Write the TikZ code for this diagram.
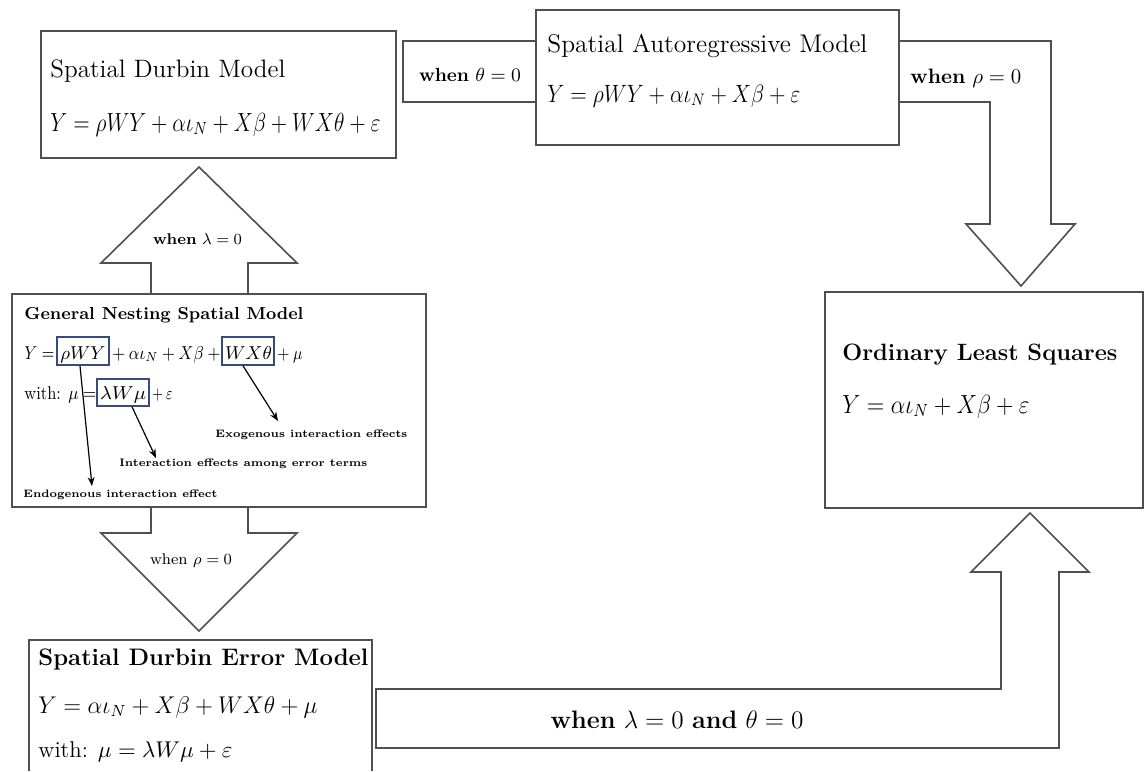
\RequirePackage{fix-cm}
\documentclass[tikz,border=0pt]{standalone}
\usetikzlibrary{arrows.meta,fit}
\newcommand{\fsz}[1]{\fontsize{#1}{#1}\selectfont}
% \rsz{width in pt}{font size}{text}
\newcommand{\rsz}[3]{\resizebox{#1pt}{!}{\fsz{#2}#3}}
% \rszh{width in pt}{height in pt}{font size}{text}
\newcommand{\rszh}[4]{\resizebox{#1pt}{#2pt}{\fsz{#3}#4}}
\definecolor{lc}{RGB}{80,80,80}
\definecolor{bx}{RGB}{55,75,125}
\begin{document}
\begin{tikzpicture}[x=0.5pt,y=-0.5pt,
  frame/.style={draw=lc, line width=0.8pt, inner sep=0pt},
  blk/.style={draw=lc, line width=0.8pt, line join=miter},
  txt/.style={inner sep=0pt, anchor=base west},
  ctr/.style={inner sep=0pt, anchor=center},
  mid/.style={inner sep=0pt, anchor=base},
  bbox/.style={draw=bx, line width=0.8pt, inner sep=0pt},
  ptr/.style={draw=black, line width=0.6pt, -{Stealth[length=4.5pt,width=3.5pt]}},
  lab/.style={inner sep=0pt, anchor=base west}]
\useasboundingbox (0,0) rectangle (1144,771);
\fill[white] (0,0) rectangle (1144,771);

% Spatial Durbin Model
\node[frame, fit={(41,31)(396,158)}] (sdm) {};
\node[txt] (sdmT) at (50,77) {\rsz{117.5}{12.3}{Spatial Durbin Model}};
\node[txt] (sdmE) at (50,131) {\rszh{165}{9.1}{12}{$Y = \rho WY + \alpha\iota_N + X\beta + WX\theta + \varepsilon$}};

% Spatial Autoregressive Model
\node[frame, fit={(536,10)(899,145)}] (sar) {};
\node[txt] (sarT) at (547,53) {\rsz{160}{12.4}{Spatial Autoregressive Model}};
\node[txt] (sarE) at (547,102) {\rszh{126.5}{8.7}{12}{$Y = \rho WY + \alpha\iota_N + X\beta + \varepsilon$}};

% when theta = 0 connector box
\draw[blk] (sar.west |- 0,41) -| (403,102) -- (sar.west |- 0,102);
\node[ctr] (thL) at (470,75) {\rsz{51}{9.6}{\textbf{when} $\theta = 0$}};

% SAR -> OLS block arrow
\draw[blk] (sar.east |- 0,41) -- (1051,41) -- (1051,224) -- (1075,224) -- (1021,286)
  -- (966,224) -- (990,224) -- (990,102) -- (sar.east |- 0,102);
\node[txt] (rhoL) at (910,83) {\rsz{55.5}{10.2}{\textbf{when} $\rho = 0$}};

% OLS
\node[frame, fit={(825,292)(1143,508)}] (ols) {};
\node[txt] (olsT) at (842,360) {\rsz{137.5}{11.6}{\bfseries Ordinary Least Squares}};
\node[txt] (olsE) at (842,413) {\rszh{93.5}{9.1}{12}{$Y = \alpha\iota_N + X\beta + \varepsilon$}};

% GNSM
\node[frame, fit={(12,294)(426,507)}] (gnsm) {};
\node[txt] (gT) at (24,319) {\rsz{139.5}{8.8}{\bfseries General Nesting Spatial Model}};
\node[txt] (g1) at (24,359) {\rszh{15}{6.4}{9.5}{$Y =$}};
\node[bbox, fit={(57,337)(109,365)}] (rwy) {};
\node[mid] (rwyT) at (83,359) {\rszh{22.5}{6.4}{9.5}{$\rho WY$}};
\node[txt] (g2) at (112,359) {\rszh{54}{6.5}{9.5}{$+\:\alpha\iota_N + X\beta\:+$}};
\node[bbox, fit={(222,337)(274,365)}] (wxt) {};
\node[mid] (wxtT) at (248.5,359) {\rszh{23.5}{6.5}{9.5}{$WX\theta$}};
\node[txt] (g3) at (277,359) {\rszh{12.5}{5.3}{9.5}{$+\:\mu$}};
\node[txt] (g4) at (24,399) {\rszh{36}{6.4}{9.5}{with: $\mu =$}};
\node[bbox, fit={(97,379)(149,406)}] (lwm) {};
\node[mid] (lwmT) at (123,399) {\rszh{23}{6.5}{9.5}{$\lambda W\mu$}};
\node[txt] (g5) at (152,399) {\rszh{10}{5.3}{9.5}{$+\:\varepsilon$}};

\node[lab] (exoL) at (215,437) {\rsz{96}{6}{\bfseries Exogenous interaction effects}};
\node[lab] (errL) at (119,466) {\rsz{124}{6}{\bfseries Interaction effects among error terms}};
\node[lab] (endL) at (23,497) {\rsz{97}{6}{\bfseries Endogenous interaction effect}};
\coordinate (exoE) at (278,421);
\coordinate (errE) at (156,458);
\coordinate (endE) at (92,486);
\draw[ptr] ([xshift=-1.5pt]rwy.south) -- (endE);
\draw[ptr] ([xshift=4.5pt]lwm.south) -- (errE);
\draw[ptr] ([xshift=-2.5pt]wxt.south) -- (exoE);

% GNSM -> SDM block arrow (up)
\draw[blk] (gnsm.north -| 151,0) -- (151,263) -- (101,263) -- (199,167) -- (297,263) -- (248,263) -- (gnsm.north -| 248,0);
\node[ctr] (lamL) at (197.5,239) {\rsz{44.5}{8.2}{\textbf{when} $\lambda = 0$}};

% GNSM -> SDEM block arrow (down)
\draw[blk] (gnsm.south -| 151,0) -- (151,533) -- (101,533) -- (199,631) -- (297,533) -- (248,533) -- (gnsm.south -| 248,0);
\node[ctr] (rho2L) at (191,561) {\rsz{41}{8.3}{when $\rho = 0$}};

% SDEM
\coordinate (sdem) at (29,640);
\draw[blk] (29,771) -- (sdem) -- (372,640) -- (372,771);
\node[txt] (sdemT) at (38,665) {\rsz{165}{11.8}{\bfseries Spatial Durbin Error Model}};
\node[txt] (sdemE) at (38,713) {\rszh{139.5}{8.4}{12}{$Y = \alpha\iota_N + X\beta + WX\theta + \mu$}};
\node[txt] (sdemW) at (38,757) {\rsz{97}{11.5}{with: $\mu = \lambda W\mu + \varepsilon$}};

% SDEM -> OLS block arrow
\draw[blk] (1001,572) -- (1001,689) -- (376,689) -- (376,748) -- (1059,748) -- (1059,572)
  -- (1089,572) -- (1030,513) -- (971,572) -- cycle;
\node[ctr] (lastL) at (677,720) {\rsz{126.5}{12.4}{\textbf{when} $\lambda = 0$ \textbf{and} $\theta = 0$}};
\end{tikzpicture}
\end{document}
